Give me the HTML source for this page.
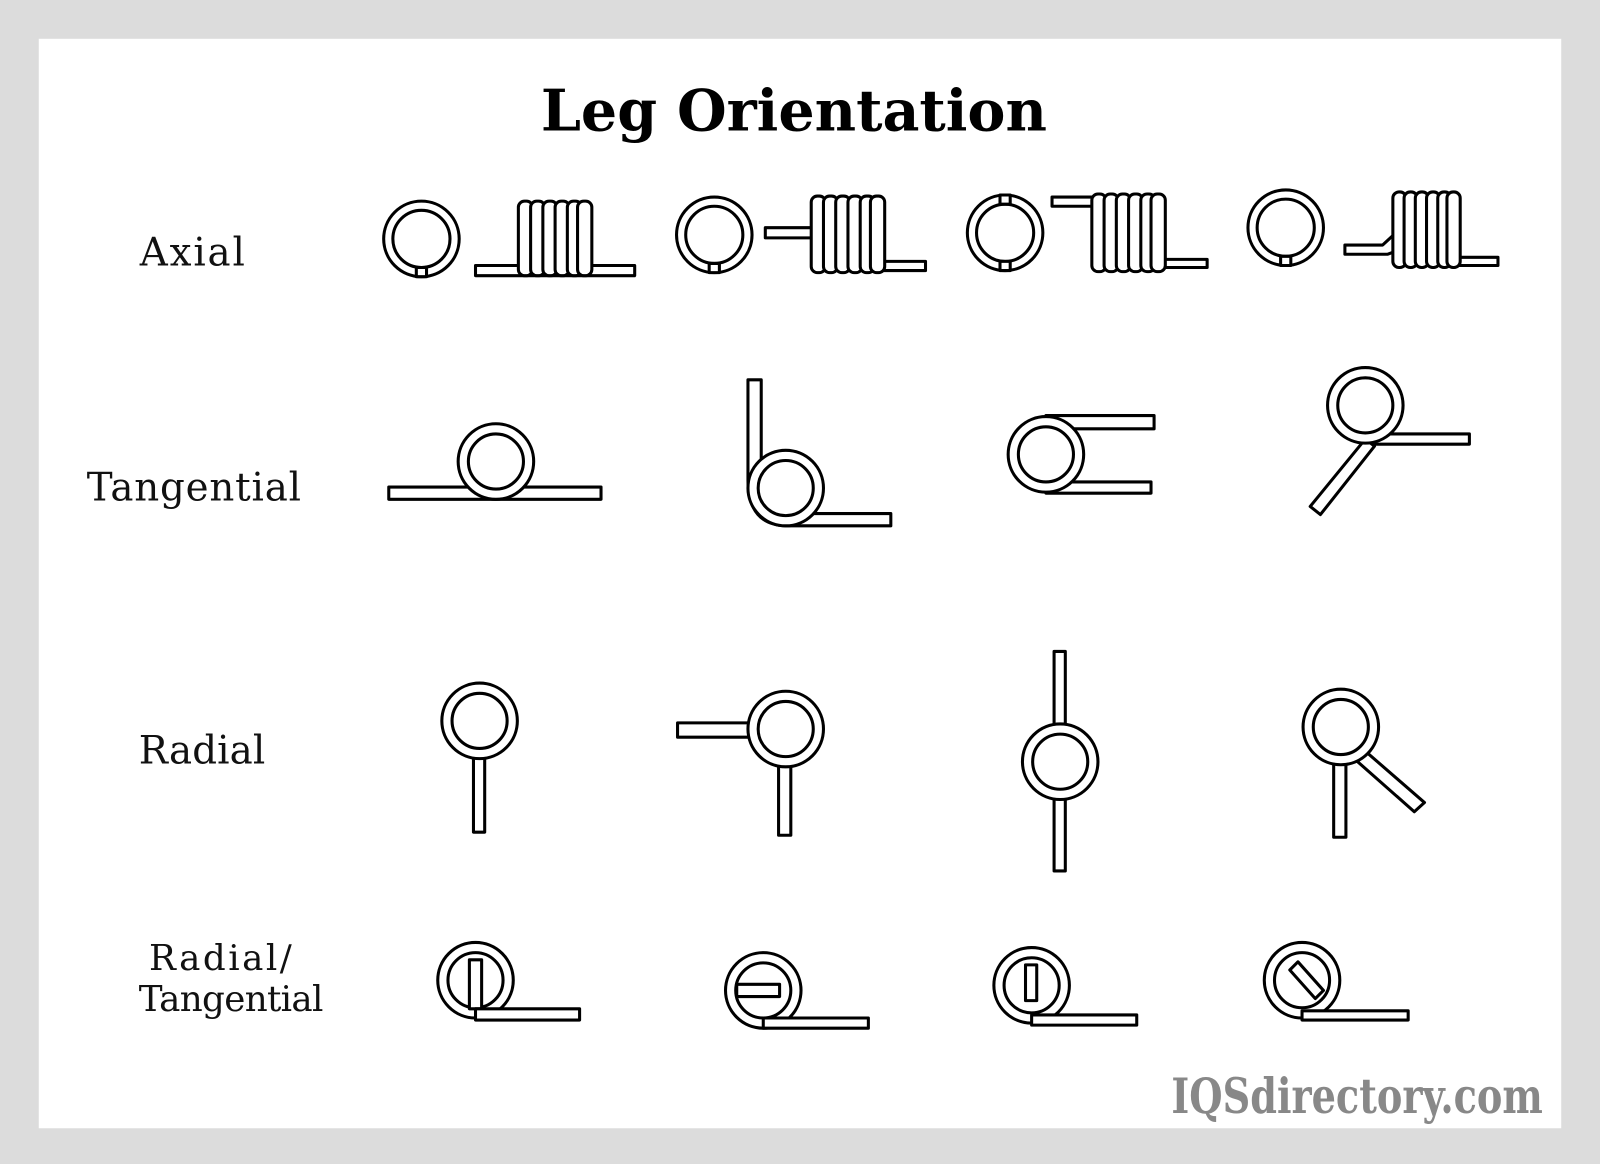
<!DOCTYPE html>
<html><head><meta charset="utf-8"><style>
html,body{margin:0;padding:0;background:#dcdcdc}
svg{display:block}
</style></head><body>
<svg width="1600" height="1164" viewBox="0 0 1568 1140" preserveAspectRatio="none">
<rect x="0" y="0" width="1568" height="1140" fill="#dcdcdc"/>
<rect x="38" y="38" width="1492" height="1067" fill="#fff"/>
<text x="530" y="128" textLength="496" lengthAdjust="spacingAndGlyphs" font-family="'DejaVu Serif','Liberation Serif',serif" font-weight="bold" font-size="56">Leg Orientation</text>
<g font-family="'DejaVu Serif','Liberation Serif',serif" font-size="38" fill="#111" lengthAdjust="spacingAndGlyphs">
<text x="137" y="260" textLength="103">Axial</text>
<text x="85" y="490" textLength="210">Tangential</text>
<text x="136" y="748" textLength="124">Radial</text>
<text x="146" y="950" textLength="140" font-size="35">Radial/</text>
<text x="136" y="990" textLength="181" font-size="35">Tangential</text>
</g>
<text x="1148" y="1090" textLength="364" lengthAdjust="spacingAndGlyphs" font-family="'DejaVu Serif','Liberation Serif',serif" font-weight="bold" font-size="48" fill="#888">IQSdirectory.com</text>
<g fill="#fff" stroke="#000" stroke-width="3" stroke-linejoin="round">
<circle cx="413" cy="234" r="37"/><circle cx="413" cy="234" r="28"/>
<rect x="408" y="262" width="10" height="9"/>
<rect x="466" y="260" width="156" height="10"/>
<rect x="508" y="197" width="14" height="73" rx="6"/><rect x="520" y="197" width="14" height="73" rx="6"/><rect x="532" y="197" width="14" height="73" rx="6"/><rect x="544" y="197" width="14" height="73" rx="6"/><rect x="556" y="197" width="14" height="73" rx="6"/><rect x="566" y="197" width="14" height="73" rx="6"/>
<circle cx="700" cy="230" r="37"/><circle cx="700" cy="230" r="28"/>
<rect x="695" y="258" width="10" height="9"/>
<rect x="750" y="223" width="48" height="10"/>
<rect x="855" y="256" width="52" height="9"/>
<rect x="795" y="192" width="14" height="75" rx="6"/><rect x="807" y="192" width="14" height="75" rx="6"/><rect x="819" y="192" width="14" height="75" rx="6"/><rect x="831" y="192" width="14" height="75" rx="6"/><rect x="843" y="192" width="14" height="75" rx="6"/><rect x="853" y="192" width="14" height="75" rx="6"/>
<circle cx="985" cy="228" r="37"/><circle cx="985" cy="228" r="28"/>
<rect x="980" y="191" width="10" height="9"/><rect x="980" y="256" width="10" height="9"/>
<rect x="1031" y="193" width="46" height="9"/>
<rect x="1130" y="254" width="53" height="8"/>
<rect x="1070" y="190" width="14" height="76" rx="6"/><rect x="1082" y="190" width="14" height="76" rx="6"/><rect x="1094" y="190" width="14" height="76" rx="6"/><rect x="1106" y="190" width="14" height="76" rx="6"/><rect x="1118" y="190" width="14" height="76" rx="6"/><rect x="1128" y="190" width="14" height="76" rx="6"/>
<circle cx="1260" cy="223" r="37"/><circle cx="1260" cy="223" r="28"/>
<rect x="1255" y="251" width="10" height="9"/>
<path d="M1318 240 H1355 L1368 228 V246 L1360 249 H1318 Z"/>
<rect x="1420" y="252" width="48" height="8"/>
<rect x="1365" y="188" width="13" height="74" rx="6"/><rect x="1376" y="188" width="13" height="74" rx="6"/><rect x="1387" y="188" width="13" height="74" rx="6"/><rect x="1398" y="188" width="13" height="74" rx="6"/><rect x="1409" y="188" width="13" height="74" rx="6"/><rect x="1418" y="188" width="13" height="74" rx="6"/>
<rect x="381" y="477" width="208" height="12"/>
<circle cx="486" cy="452" r="37"/><circle cx="486" cy="452" r="27"/>
<path d="M733 372 H746 V470 Q746 503 772 503 H873 V515 H772 Q733 515 733 470 Z"/>
<circle cx="770" cy="478" r="37"/><circle cx="770" cy="478" r="27"/>
<rect x="1025" y="407" width="106" height="13"/>
<rect x="1025" y="472" width="103" height="11"/>
<circle cx="1025" cy="445" r="37"/><circle cx="1025" cy="445" r="27"/>
<rect x="1338" y="425" width="102" height="10"/>
<path d="M1338 430 L1347 437 L1294 504 L1284 496 Z"/>
<circle cx="1338" cy="397" r="37"/><circle cx="1338" cy="397" r="27"/>
<rect x="464" y="735" width="11" height="80"/>
<circle cx="470" cy="706" r="37"/><circle cx="470" cy="706" r="27"/>
<rect x="664" y="708" width="80" height="14"/>
<rect x="763" y="740" width="12" height="78"/>
<circle cx="770" cy="714" r="37"/><circle cx="770" cy="714" r="27"/>
<rect x="1033" y="638" width="11" height="80"/>
<rect x="1033" y="775" width="11" height="78"/>
<circle cx="1039" cy="746" r="37"/><circle cx="1039" cy="746" r="27"/>
<rect x="1307" y="740" width="12" height="80"/>
<path d="M1318 735 L1328 727 L1396 786 L1386 795 Z"/>
<circle cx="1314" cy="712" r="37"/><circle cx="1314" cy="712" r="27"/>
<circle cx="466" cy="960" r="37"/><circle cx="466" cy="960" r="27"/>
<rect x="460" y="940" width="12" height="48"/>
<rect x="466" y="988" width="102" height="11"/>
<circle cx="748" cy="970" r="37"/><circle cx="748" cy="970" r="27"/>
<rect x="722" y="964" width="42" height="12"/>
<rect x="748" y="997" width="103" height="10"/>
<circle cx="1011" cy="965" r="37"/><circle cx="1011" cy="965" r="27"/>
<rect x="1005" y="945" width="11" height="35"/>
<rect x="1011" y="994" width="103" height="10"/>
<circle cx="1276" cy="960" r="37"/><circle cx="1276" cy="960" r="27"/>
<path d="M1264 950 L1272 942 L1297 970 L1289 978 Z"/>
<rect x="1276" y="990" width="104" height="9"/>
</g>
</svg>
</body></html>
